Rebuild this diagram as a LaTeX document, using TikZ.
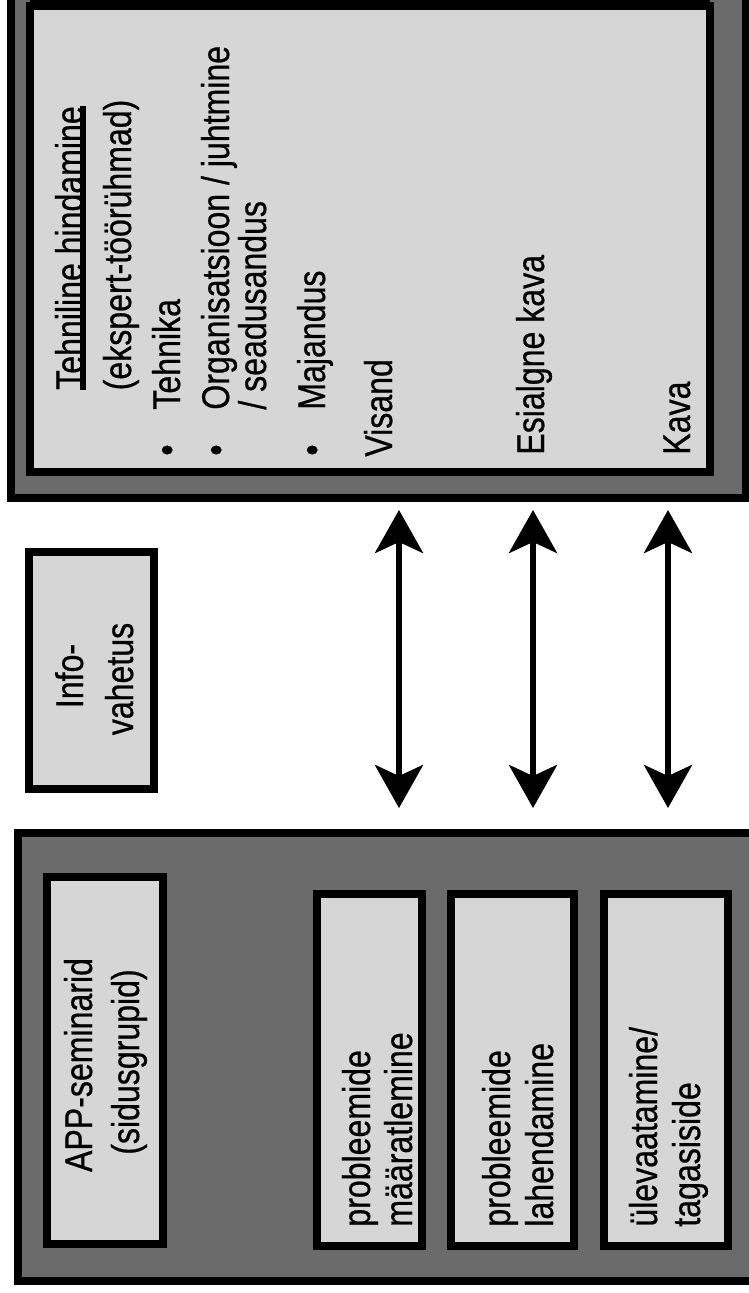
\documentclass[tikz,border=0pt]{standalone}
\usepackage{fontspec}
\setmainfont{Liberation Sans}[FakeStretch=0.83,FakeBold=0.6]
\usetikzlibrary{arrows.meta}

\begin{document}
\begin{tikzpicture}[x=0.02cm,y=-0.02cm,
	lbl/.style={rotate=90,inner sep=0pt,anchor=base west,font=\fontsize{22}{26}\selectfont},
	mid/.style={lbl,anchor=base},
	frame/.style={draw=black,fill=black!58,line width=4.5pt},
	pane/.style={draw=black,fill=black!16,line width=4.2pt},
	twoway/.style={line width=3.4pt,{Stealth[length=0.86cm,width=0.96cm,inset=0.22cm]}-{Stealth[length=0.86cm,width=0.96cm,inset=0.22cm]}}]
		\useasboundingbox (0,0) rectangle (749,1293);
		
		% top panel
		\path[frame] (11,-20) rectangle (746,498);
		\path[pane] (30,6) rectangle (710,472);
		\draw[line width=4pt] (30,3) -- (710,3);
		\node[mid] (tech) at (83,248) {Tehniline hindamine};
		\draw[line width=3pt] (tech.base west) -- (tech.base east);
		\node[mid] (expert) at (131,245) {(ekspert-töörühmad)};
		\node[mid] (dot1) at (180,450) {\textbullet};
		\node[lbl] (tehnika) at (180,410) {Tehnika};
		\node[mid] (dot2) at (229,450) {\textbullet};
		\node[lbl] (org) at (229,410) {Organisatsioon / juhtmine};
		\node[lbl] (seadus) at (266,410) {/ seadusandus};
		\node[mid] (dot3) at (325,450) {\textbullet};
		\node[lbl] (majandus) at (325,410) {Majandus};
		\node[lbl] (visand) at (392,457) {Visand};
		\node[lbl] (esialgne) at (544,455) {Esialgne kava};
		\node[lbl] (kava) at (690,455) {Kava};
		
		% info box
		\path[pane] (29,552) rectangle (154,789);
		\node[mid] (info) at (83,676) {Info-};
		\node[mid] (vahetus) at (133,679) {vahetus};
		
		\foreach \x [count=\i] in {399,533,668} {
		\coordinate (top\i) at (\x,510);
		\coordinate (bot\i) at (\x,808);
		\draw[twoway] (bot\i) -- (top\i);
		}
		
		% bottom panel
		\path[frame] (18,833) rectangle (760,1281);
		\path[pane] (47,877) rectangle (163,1244);
		\foreach \l/\r in {317/422,451/574,604/728}
		\path[pane] (\l,894) rectangle (\r,1246);
		\node[mid] (app) at (92,1065) {APP-seminarid};
		\node[mid] (sidus) at (139,1062) {(sidusgrupid)};
		\node[lbl] (prob1) at (370,1227) {probleemide};
		\node[lbl] (maar) at (412,1227) {määratlemine};
		\node[lbl] (prob2) at (510,1227) {probleemide};
		\node[lbl] (lahend) at (553,1227) {lahendamine};
		\node[lbl] (ulev) at (657,1227) {ülevaatamine/};
		\node[lbl] (tagasi) at (700,1227) {tagasiside};
	\end{tikzpicture}
\end{document}
